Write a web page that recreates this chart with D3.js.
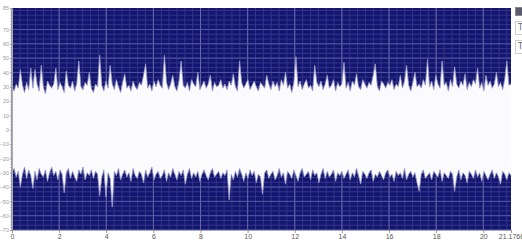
<!DOCTYPE html>
<html lang="en">
<head>
  <meta charset="UTF-8" />
  <title>Waveform</title>
  <script src="https://d3js.org/d3.v7.min.js"></script>
  <style>
    body { margin: 0; background: #fff; font-family: "DejaVu Sans", sans-serif; }
    svg { display: block; }
    .ytick text { font-size: 5.5px; fill: #999; font-family: "Liberation Sans Narrow", "Liberation Sans", sans-serif; }
    .xtick text { font-size: 7px; fill: #555; }
  </style>
</head>
<body>
  <svg id="chart" width="522" height="244"></svg>
  <script>
    const duration = 21.1766;
    const xTicks = [0, 2, 4, 6, 8, 10, 12, 14, 16, 18, 20, 21.1766];
    const yTicks = [-70, -60, -50, -40, -30, -20, -10, 0, 10, 20, 30, 40, 50, 60, 70, 85];

    // upper envelope (dB), read column by column
    const upper = [
      30,27,32,29,42,31,26,33,28,43,29,42,32,27,45,30,25,34,31,29,
      32,43,28,33,30,26,41,31,29,34,27,32,48,30,28,33,31,40,29,26,
      32,30,52,31,27,34,29,45,32,28,35,30,26,33,39,29,31,27,34,30,
      28,33,31,38,46,29,32,27,34,30,35,31,29,52,33,28,32,38,30,27,
      34,48,31,29,33,27,35,32,30,40,28,31,34,29,32,38,27,33,30,31,
      35,29,32,28,34,31,39,30,27,48,33,29,32,35,28,31,34,30,27,33,
      31,29,38,32,28,34,30,33,27,35,31,40,29,32,26,33,51,30,34,28,
      32,35,29,31,27,45,33,30,34,28,32,38,29,31,35,27,33,30,32,47,
      29,33,27,34,31,39,30,28,35,32,29,33,31,38,46,30,27,34,32,29,
      33,31,35,28,32,30,38,29,34,45,31,27,33,40,30,32,29,35,31,49,
      30,34,28,38,32,29,48,31,33,27,35,30,44,32,29,34,31,39,28,33,
      30,35,32,43,29,33,27,38,31,34,29,32,40,30,33,28,35,48,31,32
    ];
    // lower envelope (dB)
    const lower = [
      -30,-27,-33,-29,-40,-31,-26,-34,-28,-32,-41,-29,-35,-27,-31,-33,-28,-36,-30,-26,
      -32,-29,-35,-28,-31,-44,-30,-27,-34,-29,-33,-36,-28,-31,-26,-35,-30,-32,-28,-34,
      -29,-31,-46,-33,-28,-47,-30,-34,-54,-29,-32,-27,-35,-31,-28,-33,-30,-36,-27,-32,
      -34,-29,-31,-37,-28,-33,-30,-26,-35,-31,-29,-34,-32,-28,-36,-30,-33,-27,-31,-35,
      -29,-32,-28,-38,-31,-27,-34,-30,-33,-29,-36,-31,-28,-32,-35,-30,-27,-33,-31,-29,
      -34,-30,-32,-28,-49,-31,-35,-29,-33,-27,-31,-36,-30,-34,-28,-32,-29,-37,-31,-33,
      -45,-30,-28,-34,-31,-29,-35,-32,-27,-33,-30,-38,-29,-31,-34,-28,-32,-36,-30,-27,
      -33,-31,-29,-35,-28,-32,-30,-37,-31,-27,-34,-29,-33,-31,-28,-36,-30,-32,-29,-34,
      -31,-28,-35,-30,-33,-27,-32,-38,-29,-31,-34,-30,-28,-36,-31,-33,-29,-32,-35,-30,
      -28,-33,-31,-36,-29,-32,-30,-34,-27,-35,-31,-29,-33,-30,-37,-43,-31,-28,-34,-32,
      -30,-35,-29,-31,-33,-28,-36,-30,-32,-34,-29,-31,-43,-33,-28,-35,-30,-32,-37,-29,
      -31,-34,-28,-33,-30,-36,-29,-32,-35,-31,-28,-34,-30,-33,-38,-29,-31,-35,-30,-32
    ];

    const mLeft = 12, mRight = 511, mTop = 8, mBottom = 230;
    const svg = d3.select('#chart');
    const x = d3.scaleLinear().domain([0, duration]).range([mLeft, mRight]);
    const y = d3.scaleLinear().domain([-70, 85]).range([mBottom, mTop]);

    // background + grid
    svg.append('rect').attr('x', mLeft).attr('y', mTop)
      .attr('width', mRight - mLeft).attr('height', mBottom - mTop).attr('fill', '#14156f');

    const grid = svg.append('g');
    grid.selectAll('line.vmin').data(d3.range(0, duration, 1 / 3)).join('line')
      .attr('x1', d => x(d)).attr('x2', d => x(d)).attr('y1', mTop).attr('y2', mBottom)
      .attr('stroke', '#33358a').attr('stroke-width', 1);
    grid.selectAll('line.hmin').data(d3.range(-70, 85, 10 / 3)).join('line')
      .attr('x1', mLeft).attr('x2', mRight).attr('y1', d => y(d)).attr('y2', d => y(d))
      .attr('stroke', '#33358a').attr('stroke-width', 1);
    grid.selectAll('line.vmaj').data(xTicks.slice(1, -1)).join('line')
      .attr('x1', d => x(d)).attr('x2', d => x(d)).attr('y1', mTop).attr('y2', mBottom)
      .attr('stroke', '#6567a6').attr('stroke-width', 1);
    grid.selectAll('line.hmaj').data(yTicks.slice(0, -1)).join('line')
      .attr('x1', mLeft).attr('x2', mRight).attr('y1', d => y(d)).attr('y2', d => y(d))
      .attr('stroke', '#5557a0').attr('stroke-width', 1);

    // white envelope between lower and upper
    const t = d3.scaleLinear().domain([0, upper.length - 1]).range([0, duration]);
    const band = d3.area().x((d, i) => x(t(i))).y0((d, i) => y(lower[i])).y1(d => y(d));
    const line = d3.line().x((d, i) => x(t(i))).y(d => y(d));

    svg.append('path').attr('d', band(upper)).attr('fill', '#fbfbfe');
    svg.append('path').attr('d', line(upper)).attr('fill', 'none')
      .attr('stroke', '#9a9bc9').attr('stroke-width', 0.8);
    svg.append('path').attr('d', line(lower)).attr('fill', 'none')
      .attr('stroke', '#9a9bc9').attr('stroke-width', 0.8);

    // axes
    const yAxis = d3.axisLeft(y).tickValues(yTicks).tickSize(2).tickPadding(1).tickFormat(d3.format('d'));
    svg.append('g').attr('class', 'ytick').attr('transform', `translate(${mLeft},0)`).call(yAxis);
    const yMinor = d3.axisLeft(y).tickValues(d3.range(-70, 85, 2)).tickSize(1.5).tickFormat('');
    svg.append('g').attr('transform', `translate(${mLeft},0)`).call(yMinor)
      .call(g => g.select('.domain').remove());

    const xAxis = d3.axisBottom(x).tickValues(xTicks).tickSize(3).tickPadding(1)
      .tickFormat(d => d === duration ? '21.1766' : d3.format('d')(d));
    svg.append('g').attr('class', 'xtick').attr('transform', `translate(0,${mBottom})`).call(xAxis);

    svg.selectAll('.domain').attr('stroke', '#aaa');
    svg.selectAll('.tick line').attr('stroke', '#999');

    // side panel stub
    svg.append('rect').attr('x', 515.5).attr('y', 7.5).attr('width', 8).attr('height', 8)
      .attr('fill', '#5b5d6e').attr('stroke', '#888');
    [21, 40].forEach(yy => {
      svg.append('rect').attr('x', 515.5).attr('y', yy + 0.5).attr('width', 10).attr('height', 13)
        .attr('fill', '#fff').attr('stroke', '#ccc');
      svg.append('text').attr('x', 518).attr('y', yy + 9).attr('font-size', 8)
        .attr('fill', '#666').text('T');
    });
  </script>
</body>
</html>
